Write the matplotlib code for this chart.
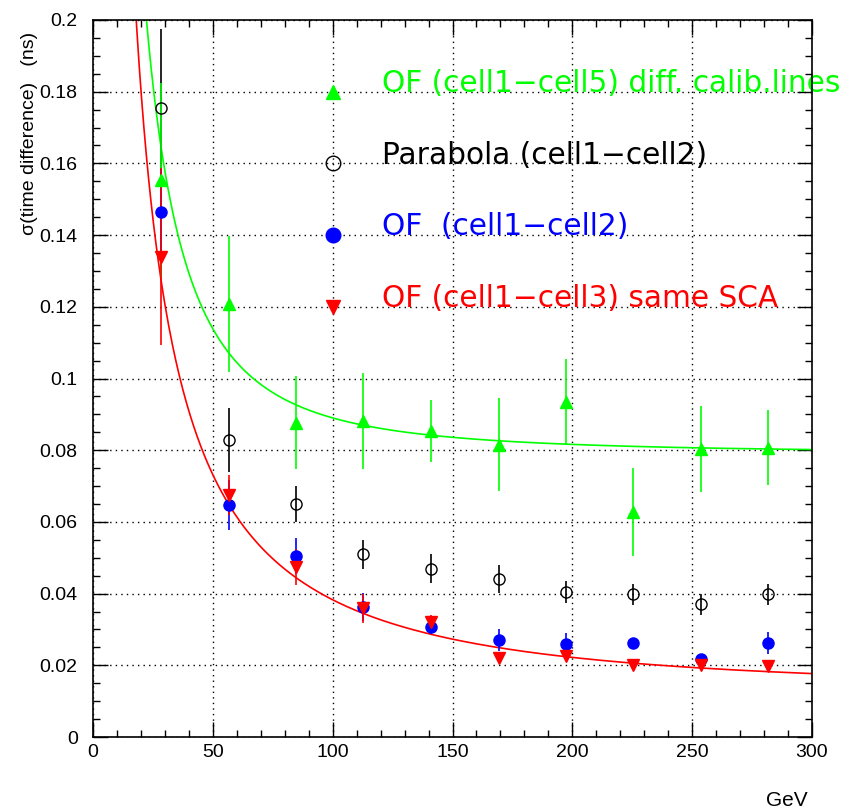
import numpy as np
import matplotlib
matplotlib.use("Agg")
import matplotlib.pyplot as plt
from matplotlib.ticker import MultipleLocator, FixedFormatter, FixedLocator

# ---- data ----
energy = [28.3, 56.6, 84.7, 112.8, 141.0, 169.2, 197.3, 225.4, 253.5, 281.6]

green_y = [0.1554, 0.1208, 0.0877, 0.0881, 0.0854, 0.0815, 0.0934, 0.0628, 0.0803, 0.0807]
green_err = [0.027, 0.019, 0.013, 0.0133, 0.0087, 0.013, 0.012, 0.0122, 0.012, 0.0105]

black_y = [0.1754, 0.0828, 0.0649, 0.0510, 0.0470, 0.0441, 0.0404, 0.0398, 0.0370, 0.0398]
black_err = [0.022, 0.0089, 0.005, 0.004, 0.004, 0.004, 0.003, 0.003, 0.003, 0.003]

blue_y = [0.1465, 0.0647, 0.0506, 0.0363, 0.0306, 0.0271, 0.0259, 0.0261, 0.0217, 0.0262]
blue_err = [0.012, 0.007, 0.005, 0.004, 0.002, 0.003, 0.003, 0.001, 0.001, 0.003]

red_y = [0.1340, 0.0675, 0.0475, 0.0359, 0.0320, 0.0220, 0.0227, 0.0201, 0.0201, 0.0198]
red_err = [0.0247, 0.0056, 0.005, 0.004, 0.002, 0.001, 0.001, 0.001, 0.001, 0.001]

# fit parameters: sigma = sqrt((a/E)^2 + c^2)
green_fit = (4.1, 0.079)
red_fit = (3.6, 0.013)

labels = ["OF (cell1\u2212cell5) diff. calib.lines",
          "Parabola (cell1\u2212cell2)",
          "OF  (cell1\u2212cell2)",
          "OF (cell1\u2212cell3) same SCA"]
label_y = [0.18, 0.16, 0.14, 0.12]

xticks = [0, 50, 100, 150, 200, 250, 300]
yticks = [0, 0.02, 0.04, 0.06, 0.08, 0.1, 0.12, 0.14, 0.16, 0.18, 0.2]
yticklabels = ["0", "0.02", "0.04", "0.06", "0.08", "0.1", "0.12", "0.14", "0.16", "0.18", "0.2"]

GREEN = "#00ff00"
BLUE = "#0000ff"
RED = "#ff0000"
BLACK = "#000000"

plt.rcParams['font.family'] = ['Liberation Sans', 'DejaVu Sans']

fig = plt.figure(figsize=(8.42, 8.11), dpi=100)
ax = fig.add_axes([93/842, 1-737/811, (812-93)/842, (737-20)/811])

ax.set_xlim(0, 300)
ax.set_ylim(0, 0.2)

# grid
ax.xaxis.set_major_locator(FixedLocator(xticks))
ax.yaxis.set_major_locator(FixedLocator(yticks))
ax.xaxis.set_minor_locator(MultipleLocator(10))
ax.yaxis.set_minor_locator(MultipleLocator(0.005))
ax.yaxis.set_major_formatter(FixedFormatter(yticklabels))
ax.grid(True, which='major', color='black', linestyle=(0, (1, 3)), linewidth=1.0)

ax.tick_params(which='both', direction='in', top=True, right=True, colors='black')
ax.tick_params(which='major', length=10.5, width=1.0)
ax.tick_params(which='minor', length=5, width=1.0)
ax.tick_params(axis='x', which='major', labelsize=14, pad=5)
ax.tick_params(axis='y', which='major', labelsize=14, pad=11)
for s in ax.spines.values():
    s.set_linewidth(1.2)
    s.set_zorder(5)

# fit curves
E = np.linspace(5, 300, 600)
ag, cg = green_fit
ar, cr = red_fit
ax.plot(E, np.sqrt((ag/E)**2 + cg**2), color=GREEN, lw=1.2, zorder=2)
ax.plot(E, np.sqrt((ar/E)**2 + cr**2), color=RED, lw=1.2, zorder=2)

ms = 8
ax.errorbar(energy, black_y, yerr=black_err, fmt='o', mfc='none', mec=BLACK,
            ecolor=BLACK, elinewidth=1.2, capsize=0, ms=ms, mew=1.0, zorder=3)
ax.errorbar(energy, green_y, yerr=green_err, fmt='^', mfc=GREEN, mec=GREEN,
            ecolor=GREEN, elinewidth=1.2, capsize=0, ms=ms, zorder=3)
ax.errorbar(energy, blue_y, yerr=blue_err, fmt='o', mfc=BLUE, mec=BLUE,
            ecolor=BLUE, elinewidth=1.2, capsize=0, ms=ms, zorder=3)
ax.errorbar(energy, red_y, yerr=red_err, fmt='v', mfc=RED, mec=RED,
            ecolor=RED, elinewidth=1.2, capsize=0, ms=ms, zorder=3)

# legend-like annotations
styles = [dict(marker='^', color=GREEN, mfc=GREEN, ms=10),
          dict(marker='o', color=BLACK, mfc='none', ms=10.5, mew=1.0),
          dict(marker='o', color=BLUE, mfc=BLUE, ms=10.5),
          dict(marker='v', color=RED, mfc=RED, ms=10)]
colors = [GREEN, BLACK, BLUE, RED]
for lab, yy, st, col in zip(labels, label_y, styles, colors):
    ax.plot([100.3], [yy], linestyle='none', zorder=4, clip_on=False, **st)
    ax.text(120.5, yy + 0.0023, lab, color=col, fontsize=21.3, va='center', ha='left',
            family=['DejaVu Sans'], zorder=2, clip_on=False)

fig.text(30/842, 1-32/811, "\u03c3(time difference)   (ns)", fontsize=14,
         rotation=90, ha='center', va='top')
fig.text(808/842, 1-800/811, "GeV", fontsize=15, ha='right', va='center')

fig.savefig("out.png", dpi=100)
